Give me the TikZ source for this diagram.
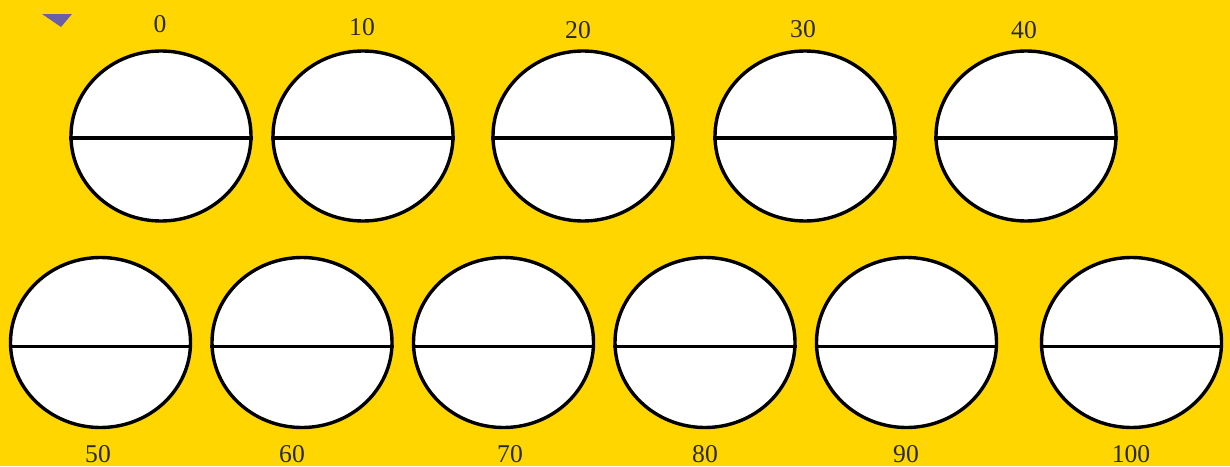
\documentclass[tikz,border=0pt]{standalone}
\usepackage{fontspec}
\setmainfont{Liberation Serif}
\usetikzlibrary{shapes.geometric}
\definecolor{bg}{HTML}{FFD600}
\definecolor{tri}{HTML}{6A5FA6}
\definecolor{lbl}{HTML}{2A2A2A}
\tikzset{
  disc/.style={ellipse, draw=black, fill=white, line width=1.7pt, inner sep=0pt,
    minimum width=90pt, minimum height=85pt},
  numlbl/.style={text=lbl, font=\fontsize{12.8}{13}\selectfont, inner sep=0pt},
  midline/.style={line width=1.6pt, draw=black}
}
\begin{document}
\begin{tikzpicture}[x=0.5pt,y=-0.5pt]
\useasboundingbox (0,0) rectangle (1230,466);
\fill[bg] (0,0) rectangle (1230,466);
\fill[tri] (42,14) -- (72,14) -- (61,27) -- cycle;
% top row
\foreach \n/\x in {a/161, b/363, c/583, d/805, e/1026}{
  \node[disc] (\n) at (\x,136) {};
  \draw[midline] ([yshift=-1pt]\n.west) -- ([yshift=-1pt]\n.east);
}
\node[numlbl] (la) at (160,24) {0};
\node[numlbl] (lb) at (362,27) {10};
\node[numlbl] (lc) at (578,30) {20};
\node[numlbl] (ld) at (803,29) {30};
\node[numlbl] (le) at (1024,30) {40};
% bottom row
\foreach \n/\x in {f/100.5, g/302, h/503.5, i/705, j/906.5, k/1131.5}{
  \node[disc] (\n) at (\x,342.5) {};
  \draw[midline] ([yshift=-2pt]\n.west) -- ([yshift=-2pt]\n.east);
}
\node[numlbl] (lf) at (98,454) {50};
\node[numlbl] (lg) at (292,454) {60};
\node[numlbl] (lh) at (510,454) {70};
\node[numlbl] (li) at (705,454) {80};
\node[numlbl] (lj) at (906,454) {90};
\node[numlbl] (lk) at (1131,454) {100};
\end{tikzpicture}
\end{document}
